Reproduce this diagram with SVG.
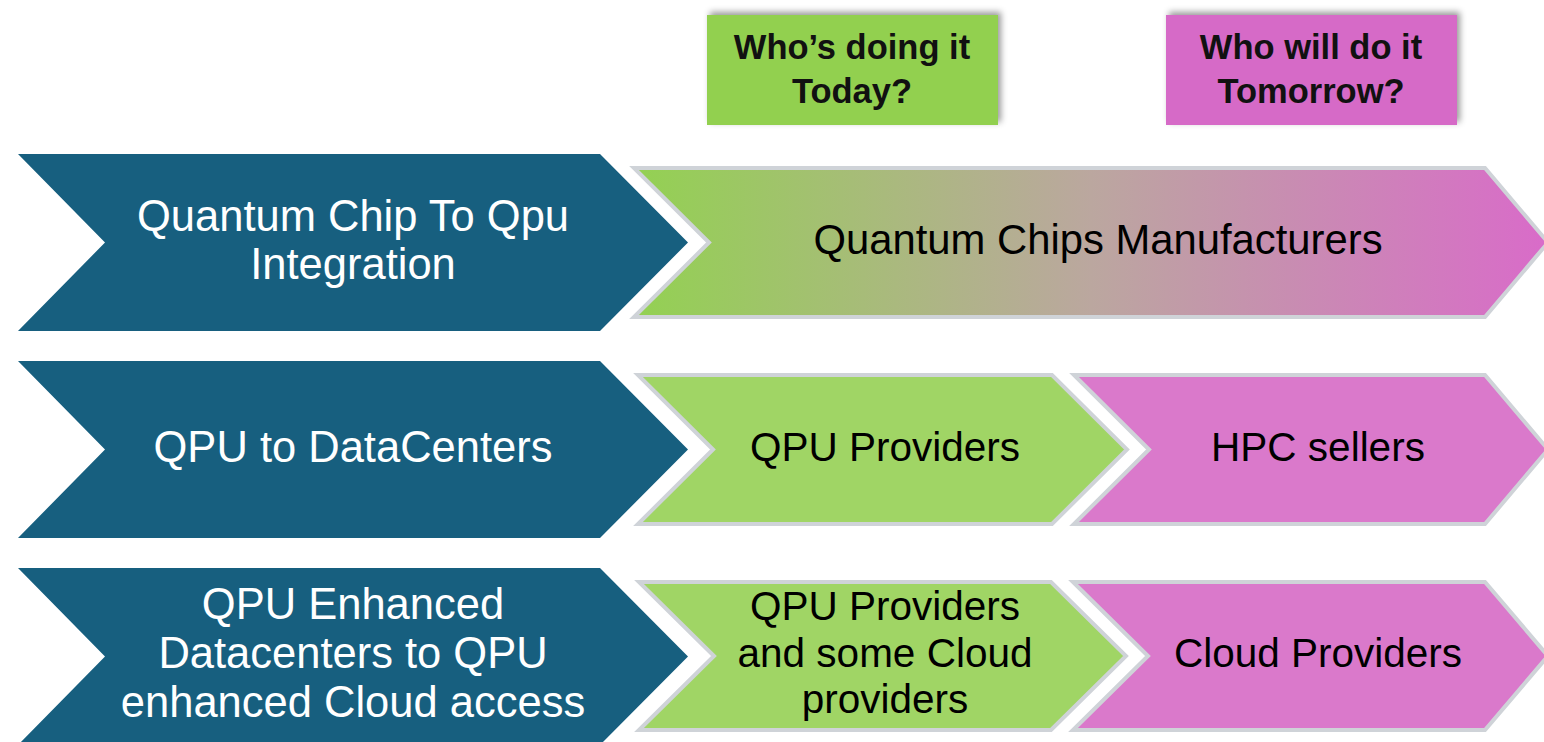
<svg xmlns="http://www.w3.org/2000/svg" width="1544" height="742" viewBox="0 0 1544 742">
  <defs>
    <linearGradient id="rowGrad" x1="0" y1="0" x2="1" y2="0">
      <stop offset="0" stop-color="#93d152"/>
      <stop offset="0.5" stop-color="#bba79f"/>
      <stop offset="1" stop-color="#d96bc9"/>
    </linearGradient>
    <filter id="hdrShadow" x="-10%" y="-20%" width="120%" height="140%">
      <feDropShadow dx="3" dy="-3" stdDeviation="3" flood-color="#000" flood-opacity="0.4"/>
    </filter>
  </defs>
  <style>
    .stage { fill: #175f7f; }
    .today { fill: #a0d565; stroke: #cfd3d8; stroke-width: 4; stroke-linejoin: miter; }
    .tomorrow { fill: #da79cb; stroke: #cfd3d8; stroke-width: 4; stroke-linejoin: miter; }
    .blend { fill: url(#rowGrad); stroke: #cfd3d8; stroke-width: 4; }
    .hdr-today { fill: #92d050; }
    .hdr-tomorrow { fill: #d66bc7; }
    text { font-family: "Liberation Sans", Arial, sans-serif; text-anchor: middle; }
    .hdr { font-size: 34.5px; font-weight: 700; fill: #111111; }
    .stage-label { font-size: 43.5px; fill: #ffffff; }
    .label { font-size: 40.5px; fill: #000000; }
    .label-wide { font-size: 41.8px; fill: #000000; }
  </style>

  <rect width="1544" height="742" fill="#ffffff"/>

  <!-- column headers -->
  <g id="header-today">
    <rect class="hdr-today" x="707" y="15" width="291" height="110" filter="url(#hdrShadow)"/>
    <text class="hdr" x="852" y="59">Who’s doing it</text>
    <text class="hdr" x="852" y="103">Today?</text>
  </g>
  <g id="header-tomorrow">
    <rect class="hdr-tomorrow" x="1166" y="15" width="291" height="110" filter="url(#hdrShadow)"/>
    <text class="hdr" x="1311" y="59">Who will do it</text>
    <text class="hdr" x="1311" y="103">Tomorrow?</text>
  </g>

  <!-- row 1 -->
  <g id="stage-chip-to-qpu">
    <polygon class="stage" points="18,154 600,154 688,242.5 600,331 18,331 105,242.5"/>
    <text class="stage-label" x="353" y="231">Quantum Chip To Qpu</text>
    <text class="stage-label" x="353" y="279">Integration</text>
  </g>
  <g id="who-chip-manufacturers">
    <polygon class="blend" points="634,168 1485,168 1548,242.5 1485,317 634,317 709,242.5"/>
    <text class="label-wide" x="1098" y="254">Quantum Chips Manufacturers</text>
  </g>

  <!-- row 2 -->
  <g id="stage-qpu-to-datacenters">
    <polygon class="stage" points="18,361 600,361 688,449.5 600,538 18,538 105,449.5"/>
    <text class="stage-label" x="353" y="462">QPU to DataCenters</text>
  </g>
  <g id="today-qpu-providers">
    <polygon class="today" points="638,375 1052,375 1127,449.5 1052,524 638,524 713,449.5"/>
    <text class="label" x="885" y="461">QPU Providers</text>
  </g>
  <g id="tomorrow-hpc-sellers">
    <polygon class="tomorrow" points="1074,375 1485,375 1548,449.5 1485,524 1074,524 1149,449.5"/>
    <text class="label" x="1318" y="461">HPC sellers</text>
  </g>

  <!-- row 3 -->
  <g id="stage-cloud-access">
    <polygon class="stage" points="18,568 600,568 688,656.5 600,745 18,745 105,656.5"/>
    <text class="stage-label" x="353" y="619">QPU Enhanced</text>
    <text class="stage-label" x="353" y="668">Datacenters to QPU</text>
    <text class="stage-label" x="353" y="717">enhanced Cloud access</text>
  </g>
  <g id="today-qpu-and-cloud">
    <polygon class="today" points="639,582 1051,582 1126,656 1051,730 639,730 714,656"/>
    <text class="label" x="885" y="620">QPU Providers</text>
    <text class="label" x="885" y="667">and some Cloud</text>
    <text class="label" x="885" y="713">providers</text>
  </g>
  <g id="tomorrow-cloud-providers">
    <polygon class="tomorrow" points="1073,582 1485,582 1548,656 1485,730 1073,730 1148,656"/>
    <text class="label" x="1318" y="667">Cloud Providers</text>
  </g>
</svg>
